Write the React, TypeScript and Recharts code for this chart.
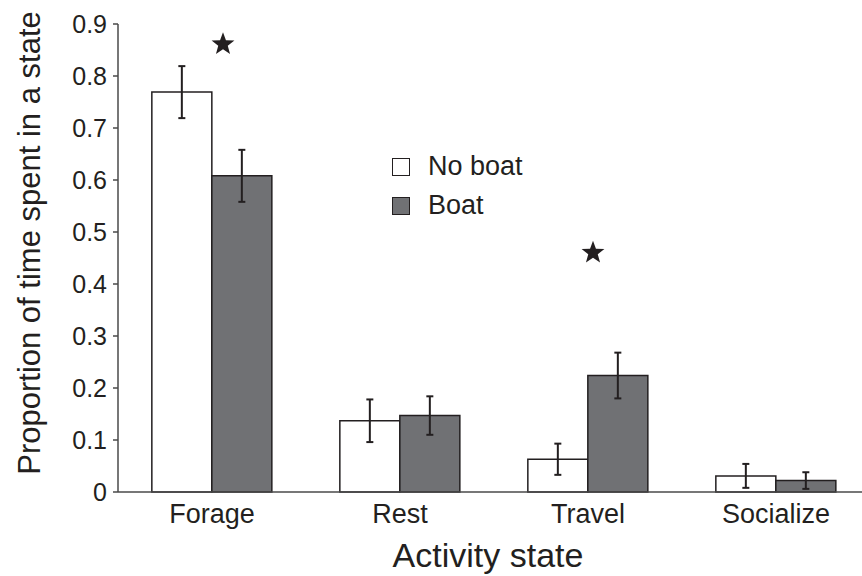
import React from 'react';
import { ComposedChart, Bar, XAxis, YAxis, ErrorBar, Scatter, Legend } from 'recharts';

const categories = ['Forage', 'Rest', 'Travel', 'Socialize'];
const noBoat = [0.769, 0.137, 0.063, 0.031];
const noBoatErr = [0.05, 0.041, 0.03, 0.023];
const boat = [0.608, 0.147, 0.224, 0.022];
const boatErr = [0.05, 0.037, 0.044, 0.016];
const stars = [0.861, null, 0.46, null];
const yTicks = [0, 0.1, 0.2, 0.3, 0.4, 0.5, 0.6, 0.7, 0.8, 0.9];
const boundaryTicks = [0, 1, 2, 3, 4];
const seriesNames = ['No boat', 'Boat'];
const seriesFills = ['#ffffff', '#707174'];

const data = categories.map((c, i) => ({
  category: c,
  noBoat: noBoat[i],
  noBoatErr: noBoatErr[i],
  boat: boat[i],
  boatErr: boatErr[i],
  star: stars[i],
}));

const INK = '#231f20';
const FONT = '"Liberation Sans", Arial, Helvetica, sans-serif';

// star marker, nudged a little right of the category centre like the original
function Star(props: any) {
  const { cx, cy, payload, index } = props;
  if (payload == null || payload.star == null || !isFinite(cx) || !isFinite(cy)) return <g />;
  const x0 = cx + (index === 0 ? 11 : 5);
  const pts: string[] = [];
  for (let k = 0; k < 10; k++) {
    const r = k % 2 === 0 ? 12 : 5;
    const a = -Math.PI / 2 + (k * Math.PI) / 5;
    pts.push(`${x0 + r * Math.cos(a)},${cy + r * Math.sin(a)}`);
  }
  return <polygon points={pts.join(' ')} fill={INK} />;
}

function LegendBox() {
  return (
    <div style={{ fontFamily: FONT, fontSize: 27, color: INK }}>
      {seriesNames.map((name, i) => (
        <div key={name} style={{ display: 'flex', alignItems: 'center', height: 39 }}>
          <span
            style={{
              display: 'inline-block',
              width: 16,
              height: 16,
              background: seriesFills[i],
              border: `1.5px solid ${INK}`,
              marginRight: 18,
            }}
          />
          <span>{name}</span>
        </div>
      ))}
    </div>
  );
}

function YTitle(props: any) {
  const vb = props.viewBox || { x: 0, y: 24, height: 468 };
  const cy = vb.y + vb.height / 2 - 15;
  return (
    <text
      transform={`translate(29, ${cy}) rotate(-90)`}
      textAnchor="middle"
      dominantBaseline="central"
      fontSize={31}
      fontFamily={FONT}
      fill={INK}
    >
      Proportion of time spent in a state
    </text>
  );
}

export default function App() {
  return (
    <div style={{ position: 'absolute', left: 0, top: 0, width: 862, height: 576, overflow: 'hidden', background: '#fff' }}>
      <ComposedChart
        width={870}
        height={576}
        data={data}
        margin={{ top: 24, right: 0, bottom: 0, left: 0 }}
        barCategoryGap="18%"
        barGap={0}
      >
        <XAxis
          xAxisId="bounds"
          type="number"
          domain={[0, 4]}
          ticks={boundaryTicks}
          tick={false}
          height={8}
          tickSize={6}
          stroke="#4a4a4a"
          strokeWidth={1.5}
          allowDataOverflow
        />
        <XAxis
          xAxisId="cat"
          dataKey="category"
          height={76}
          axisLine={false}
          tickLine={false}
          tickSize={0}
          tickMargin={4}
          tick={{ fontSize: 27, fill: INK, fontFamily: FONT }}
          label={{ value: 'Activity state', position: 'insideBottom', offset: 9, dx: -6, fontSize: 34, fill: INK, fontFamily: FONT }}
        />
        <YAxis
          domain={[0, 0.9]}
          ticks={yTicks}
          width={118}
          tickSize={5}
          tickMargin={6}
          stroke="#4a4a4a"
          strokeWidth={1.5}
          tickFormatter={(v: number) => (v === 0 ? '0' : v.toFixed(1))}
          tick={{ fontSize: 25, fill: INK, fontFamily: FONT }}
          label={{ content: (p: any) => <YTitle {...p} /> }}
        />
        <Legend
          layout="vertical"
          align="center"
          verticalAlign="middle"
          wrapperStyle={{ left: 392, top: 147, width: 'auto' }}
          content={() => <LegendBox />}
        />
        <Bar xAxisId="cat" dataKey="noBoat" name={seriesNames[0]} fill={seriesFills[0]} stroke={INK} strokeWidth={1.5} isAnimationActive={false}>
          <ErrorBar dataKey="noBoatErr" width={3.5} stroke={INK} strokeWidth={2} isAnimationActive={false} />
        </Bar>
        <Bar xAxisId="cat" dataKey="boat" name={seriesNames[1]} fill={seriesFills[1]} stroke={INK} strokeWidth={1.5} isAnimationActive={false}>
          <ErrorBar dataKey="boatErr" width={3.5} stroke={INK} strokeWidth={2} isAnimationActive={false} />
        </Bar>
        <Scatter xAxisId="cat" dataKey="star" legendType="none" shape={<Star />} isAnimationActive={false} />
      </ComposedChart>
    </div>
  );
}
